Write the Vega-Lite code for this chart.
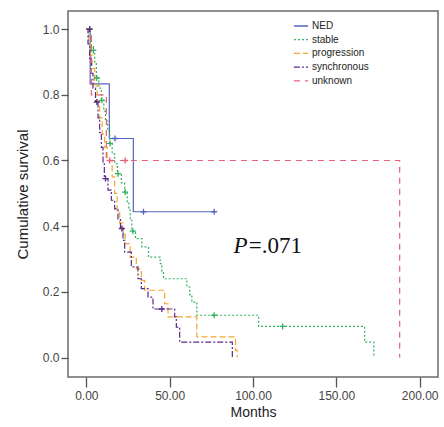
{
  "$schema": "https://vega.github.io/schema/vega-lite/v6.json",
  "width": 370,
  "height": 366,
  "autosize": {"type": "none"},
  "padding": {"left": 68, "top": 11, "right": 6, "bottom": 50},
  "background": "white",
  "config": {
    "view": {"stroke": "#6b6b6b", "strokeWidth": 1.5},
    "font": "Liberation Sans"
  },
  "datasets": {
    "curves": [
      {"group": "NED", "t": 0, "s": 1.0},
      {"group": "NED", "t": 2.3, "s": 0.833},
      {"group": "NED", "t": 13.8, "s": 0.667},
      {"group": "NED", "t": 28.2, "s": 0.444},
      {"group": "NED", "t": 76.7, "s": 0.444},

      {"group": "stable", "t": 0, "s": 1.0},
      {"group": "stable", "t": 1.5, "s": 0.975},
      {"group": "stable", "t": 3, "s": 0.95},
      {"group": "stable", "t": 4.2, "s": 0.935},
      {"group": "stable", "t": 5, "s": 0.9},
      {"group": "stable", "t": 6.0, "s": 0.851},
      {"group": "stable", "t": 7.5, "s": 0.82},
      {"group": "stable", "t": 9.0, "s": 0.783},
      {"group": "stable", "t": 10.5, "s": 0.75},
      {"group": "stable", "t": 11.5, "s": 0.72},
      {"group": "stable", "t": 12.8, "s": 0.69},
      {"group": "stable", "t": 14.0, "s": 0.652},
      {"group": "stable", "t": 15.5, "s": 0.62},
      {"group": "stable", "t": 17, "s": 0.59},
      {"group": "stable", "t": 18.7, "s": 0.56},
      {"group": "stable", "t": 21, "s": 0.532},
      {"group": "stable", "t": 23.0, "s": 0.504},
      {"group": "stable", "t": 24.5, "s": 0.475},
      {"group": "stable", "t": 25.5, "s": 0.45},
      {"group": "stable", "t": 26.3, "s": 0.423},
      {"group": "stable", "t": 27.3, "s": 0.385},
      {"group": "stable", "t": 29.5, "s": 0.362},
      {"group": "stable", "t": 33.3, "s": 0.337},
      {"group": "stable", "t": 37.3, "s": 0.306},
      {"group": "stable", "t": 44.3, "s": 0.286},
      {"group": "stable", "t": 45.3, "s": 0.262},
      {"group": "stable", "t": 46.3, "s": 0.24},
      {"group": "stable", "t": 60.3, "s": 0.215},
      {"group": "stable", "t": 62, "s": 0.192},
      {"group": "stable", "t": 63.3, "s": 0.169},
      {"group": "stable", "t": 66.3, "s": 0.129},
      {"group": "stable", "t": 103.4, "s": 0.095},
      {"group": "stable", "t": 167, "s": 0.047},
      {"group": "stable", "t": 172.5, "s": 0.0},

      {"group": "progression", "t": 0, "s": 1.0},
      {"group": "progression", "t": 1.5, "s": 0.96},
      {"group": "progression", "t": 2.5, "s": 0.92},
      {"group": "progression", "t": 3.5, "s": 0.88},
      {"group": "progression", "t": 5, "s": 0.83},
      {"group": "progression", "t": 6.5, "s": 0.78},
      {"group": "progression", "t": 8, "s": 0.73},
      {"group": "progression", "t": 9.5, "s": 0.68},
      {"group": "progression", "t": 11, "s": 0.64},
      {"group": "progression", "t": 12.5, "s": 0.6},
      {"group": "progression", "t": 15.5, "s": 0.55},
      {"group": "progression", "t": 17, "s": 0.5},
      {"group": "progression", "t": 18.5, "s": 0.45},
      {"group": "progression", "t": 20, "s": 0.41},
      {"group": "progression", "t": 22, "s": 0.375},
      {"group": "progression", "t": 23.3, "s": 0.347},
      {"group": "progression", "t": 26.3, "s": 0.306},
      {"group": "progression", "t": 30, "s": 0.27},
      {"group": "progression", "t": 33, "s": 0.235},
      {"group": "progression", "t": 35, "s": 0.205},
      {"group": "progression", "t": 47, "s": 0.164},
      {"group": "progression", "t": 49, "s": 0.124},
      {"group": "progression", "t": 66.3, "s": 0.063},
      {"group": "progression", "t": 89.5, "s": 0.022},
      {"group": "progression", "t": 90.5, "s": 0.0},

      {"group": "synchronous", "t": 0, "s": 1.0},
      {"group": "synchronous", "t": 1, "s": 0.955},
      {"group": "synchronous", "t": 2, "s": 0.91},
      {"group": "synchronous", "t": 3, "s": 0.865},
      {"group": "synchronous", "t": 4, "s": 0.82},
      {"group": "synchronous", "t": 5.5, "s": 0.778},
      {"group": "synchronous", "t": 7, "s": 0.73},
      {"group": "synchronous", "t": 8, "s": 0.685},
      {"group": "synchronous", "t": 9, "s": 0.64},
      {"group": "synchronous", "t": 10, "s": 0.59},
      {"group": "synchronous", "t": 10.8, "s": 0.545},
      {"group": "synchronous", "t": 13, "s": 0.51},
      {"group": "synchronous", "t": 15, "s": 0.479},
      {"group": "synchronous", "t": 17, "s": 0.453},
      {"group": "synchronous", "t": 19, "s": 0.42},
      {"group": "synchronous", "t": 20.5, "s": 0.393},
      {"group": "synchronous", "t": 22, "s": 0.357},
      {"group": "synchronous", "t": 23, "s": 0.321},
      {"group": "synchronous", "t": 27, "s": 0.276},
      {"group": "synchronous", "t": 31, "s": 0.24},
      {"group": "synchronous", "t": 33, "s": 0.21},
      {"group": "synchronous", "t": 37, "s": 0.184},
      {"group": "synchronous", "t": 40, "s": 0.148},
      {"group": "synchronous", "t": 53, "s": 0.124},
      {"group": "synchronous", "t": 54, "s": 0.093},
      {"group": "synchronous", "t": 56, "s": 0.047},
      {"group": "synchronous", "t": 87.6, "s": 0.0},

      {"group": "unknown", "t": 0, "s": 1.0},
      {"group": "unknown", "t": 3, "s": 0.8},
      {"group": "unknown", "t": 12, "s": 0.6},
      {"group": "unknown", "t": 188, "s": 0.0}
    ],
    "censored": [
      {"group": "NED", "t": 17.2, "s": 0.667},
      {"group": "NED", "t": 34.3, "s": 0.444},
      {"group": "NED", "t": 76.7, "s": 0.444},
      {"group": "stable", "t": 2, "s": 1.0},
      {"group": "stable", "t": 4.2, "s": 0.935},
      {"group": "stable", "t": 6.3, "s": 0.851},
      {"group": "stable", "t": 9.3, "s": 0.783},
      {"group": "stable", "t": 14.2, "s": 0.652},
      {"group": "stable", "t": 19, "s": 0.56},
      {"group": "stable", "t": 23.3, "s": 0.504},
      {"group": "stable", "t": 27.9, "s": 0.385},
      {"group": "stable", "t": 76.7, "s": 0.129},
      {"group": "stable", "t": 117.8, "s": 0.095},
      {"group": "synchronous", "t": 2, "s": 1.0},
      {"group": "synchronous", "t": 6.3, "s": 0.778},
      {"group": "synchronous", "t": 11.5, "s": 0.545},
      {"group": "synchronous", "t": 21.3, "s": 0.393},
      {"group": "synchronous", "t": 45.3, "s": 0.148},
      {"group": "unknown", "t": 14, "s": 0.6},
      {"group": "unknown", "t": 23.3, "s": 0.6}
    ],
    "annotation": [
      {"part1": "P", "part2": "=.071", "x1": 88.3, "x2": 97.4, "y": 0.318}
    ]
  },
  "layer": [
    {
      "data": {"name": "curves"},
      "mark": {"type": "line", "interpolate": "step-after", "strokeWidth": 1.2},
      "encoding": {
        "x": {
          "field": "t", "type": "quantitative",
          "scale": {"domain": [-11, 211], "nice": false, "zero": false},
          "axis": {
            "values": [0, 50, 100, 150, 200], "format": ".2f",
            "grid": false, "domain": false,
            "tickSize": 10, "tickColor": "#555", "tickWidth": 1.3,
            "labelFontSize": 12, "labelColor": "#444", "labelPadding": 3,
            "title": "Months", "titleFontSize": 14, "titleFontWeight": "normal",
            "titleColor": "#222", "titlePadding": 4
          }
        },
        "y": {
          "field": "s", "type": "quantitative",
          "scale": {"domain": [-0.059, 1.055], "nice": false, "zero": false},
          "axis": {
            "values": [0, 0.2, 0.4, 0.6, 0.8, 1.0], "format": ".1f",
            "grid": false, "domain": false,
            "tickSize": 7, "tickColor": "#555", "tickWidth": 1.3,
            "labelFontSize": 12, "labelColor": "#444", "labelPadding": 2,
            "title": "Cumulative survival", "titleFontSize": 15, "titleFontWeight": "normal",
            "titleColor": "#222", "titlePadding": 12
          }
        },
        "color": {
          "field": "group", "type": "nominal",
          "scale": {
            "domain": ["NED", "stable", "progression", "synchronous", "unknown"],
            "range": ["#5566bb", "#33b060", "#f0a830", "#5a2a85", "#e8607a"]
          },
          "legend": {
            "orient": "none", "legendX": 225, "legendY": 9, "title": null,
            "symbolType": "stroke", "symbolSize": 200, "symbolStrokeWidth": 1.3,
            "clipHeight": 12, "rowPadding": 1.7, "labelOffset": 3,
            "labelFontSize": 10, "labelColor": "#222"
          }
        },
        "strokeDash": {
          "field": "group", "type": "nominal",
          "scale": {
            "domain": ["NED", "stable", "progression", "synchronous", "unknown"],
            "range": [[1, 0], [2, 2], [6, 3], [6, 2, 2, 2], [6, 5]]
          },
          "legend": {
            "orient": "none", "legendX": 225, "legendY": 9, "title": null,
            "symbolType": "stroke", "symbolSize": 200, "symbolStrokeWidth": 1.3,
            "clipHeight": 12, "rowPadding": 1.7, "labelOffset": 3,
            "labelFontSize": 10, "labelColor": "#222"
          }
        }
      }
    },
    {
      "data": {"name": "censored"},
      "mark": {"type": "point", "shape": "M-1,0H1M0,-1V1", "filled": false, "size": 36, "strokeWidth": 1.3, "opacity": 1},
      "encoding": {
        "x": {"field": "t", "type": "quantitative"},
        "y": {"field": "s", "type": "quantitative"},
        "color": {"field": "group", "type": "nominal", "legend": null}
      }
    },
    {
      "data": {"name": "annotation"},
      "mark": {"type": "text", "font": "Liberation Serif", "fontStyle": "italic", "fontSize": 23, "align": "left", "baseline": "alphabetic", "color": "#111"},
      "encoding": {
        "x": {"field": "x1", "type": "quantitative"},
        "y": {"field": "y", "type": "quantitative"},
        "text": {"field": "part1"}
      }
    },
    {
      "data": {"name": "annotation"},
      "mark": {"type": "text", "font": "Liberation Serif", "fontSize": 23, "align": "left", "baseline": "alphabetic", "color": "#111"},
      "encoding": {
        "x": {"field": "x2", "type": "quantitative"},
        "y": {"field": "y", "type": "quantitative"},
        "text": {"field": "part2"}
      }
    }
  ]
}
